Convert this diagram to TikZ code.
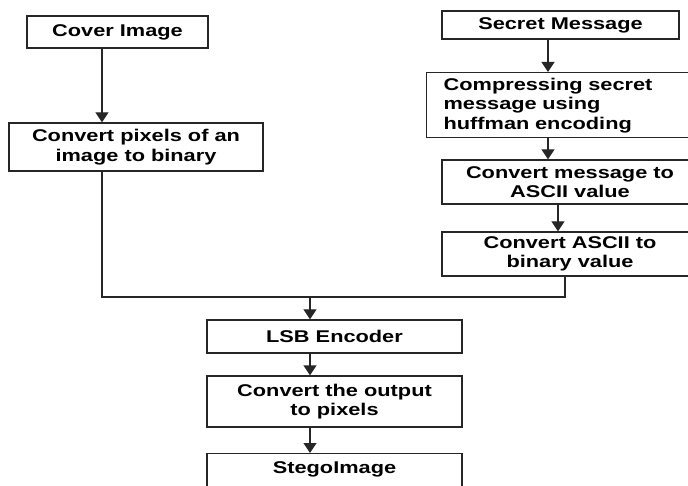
\documentclass[tikz,border=0pt]{standalone}
\usepackage{fontspec}
\setmainfont{Liberation Sans}[FakeStretch=1.28]
\usetikzlibrary{arrows.meta}
\begin{document}
\begin{tikzpicture}[x=1pt,y=-1pt,
  box/.style={draw=black!85, line width=1.3pt, inner sep=0pt, align=center,
    font=\bfseries\fontsize{17}{19.5}\selectfont},
  arr/.style={draw=black!85, line width=1.3pt, -{Triangle[width=13pt,length=10pt]}},
  link/.style={draw=black!85, line width=1.3pt}]
\clip (0,0) rectangle (688,486);
\fill[white] (0,0) rectangle (688,486);

% left branch: cover image
\node[box, minimum width=181pt, minimum height=32pt] (cover) at (117.5,32) {Cover Image};
\node[box, minimum width=254pt, minimum height=48pt] (pixels) at (136,147)
  {Convert pixels of an\\image to binary};

% right branch: secret message
\node[box, minimum width=237pt, minimum height=28pt] (secret) at (560.5,25) {Secret Message};
\node[box, anchor=north west, align=left, text width=240pt, inner xsep=17pt,
  minimum height=65pt] (compress) at (426,72)
  {Compressing secret\\message using\\huffman encoding};
\node[box, minimum width=256pt, minimum height=44pt] (ascii) at (570,182)
  {Convert message to\\ASCII value};
\node[box, minimum width=256pt, minimum height=44pt] (binary) at (570,254)
  {Convert ASCII to\\binary value};

% merged path
\node[box, minimum width=255pt, minimum height=33pt] (lsb) at (334.5,336.5) {LSB Encoder};
\node[box, minimum width=255pt, minimum height=51pt] (output) at (334.5,401.5)
  {Convert the output\\to pixels};
\node[box, minimum width=255pt, anchor=north, text height=20pt, text depth=40pt]
  (stego) at (334.5,453) {StegoImage};

\coordinate (join) at (310,297);

% connectors
\draw[arr] ([xshift=-15.5pt]cover.south) -- ([xshift=-15.5pt]cover.south |- pixels.north);
\draw[arr] ([xshift=-12.5pt]secret.south) -- ([xshift=-12.5pt]secret.south |- compress.north);
\draw[arr] ([xshift=-12.5pt]secret.south |- compress.south) -- ([xshift=-12.5pt]secret.south |- ascii.north);
\draw[arr] ([xshift=-12pt]ascii.south) -- ([xshift=-12pt]ascii.south |- binary.north);
\draw[link] ([xshift=-34pt]pixels.south) |- (join);
\draw[link] ([xshift=-5pt]binary.south) |- (join);
\draw[arr] (join) -- (join |- lsb.north);
\draw[arr] (join |- lsb.south) -- (join |- output.north);
\draw[arr] (join |- output.south) -- (join |- stego.north);
\end{tikzpicture}
\end{document}
